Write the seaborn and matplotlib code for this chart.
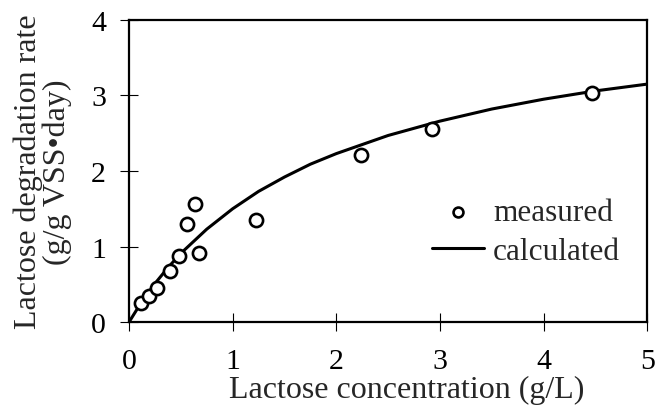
import numpy as np
import pandas as pd
import matplotlib
matplotlib.use("Agg")
import matplotlib.pyplot as plt
import seaborn as sns

# Measured lactose degradation rates
measured_conc = [0.12, 0.19, 0.27, 0.40, 0.48, 0.56, 0.64, 0.68, 1.23, 2.24, 2.92, 4.47]
measured_rate = [0.25, 0.35, 0.45, 0.67, 0.87, 1.30, 1.56, 0.92, 1.35, 2.21, 2.55, 3.03]

# Calculated (model) rate curve
calc_conc = [0.0, 0.1, 0.25, 0.375, 0.5, 0.75, 1.0, 1.25, 1.5, 1.75, 2.0, 2.5, 3.0, 3.5, 4.0, 4.5, 5.0]
calc_rate = [0.0, 0.22, 0.51, 0.72, 0.91, 1.23, 1.50, 1.73, 1.92, 2.09, 2.23, 2.47, 2.66, 2.82, 2.95, 3.06, 3.15]

x_ticks = [0, 1, 2, 3, 4, 5]
y_ticks = [0, 1, 2, 3, 4]

sns.set_theme(style="ticks")
plt.rcParams["font.family"] = ["Liberation Serif", "DejaVu Serif"]
plt.rcParams["mathtext.fontset"] = "stix"

FS_TICK = 21.5
FS_LABEL = 23
FS_LEG = 22.5

meas = pd.DataFrame({"conc": measured_conc, "rate": measured_rate})
calc = pd.DataFrame({"conc": calc_conc, "rate": calc_rate})

fig = plt.figure(figsize=(6.55, 4.10), dpi=100)
ax = fig.add_axes([0.197, 0.212, 0.791, 0.737])

sns.lineplot(data=calc, x="conc", y="rate", ax=ax, color="black", lw=2.2,
             label="calculated", zorder=2)
sns.scatterplot(data=meas, x="conc", y="rate", ax=ax, marker="o", s=90,
                facecolor="white", edgecolor="black", linewidth=1.9,
                label="measured", zorder=3)

ax.set_xlim(0, 5)
ax.set_ylim(0, 4)
ax.set_xticks(x_ticks)
ax.set_yticks(y_ticks)
ax.tick_params(axis="both", direction="inout", length=13, width=0.8,
               labelsize=FS_TICK, colors="black")
ax.tick_params(axis="x", pad=12)
ax.tick_params(axis="y", pad=10)

for side in ["left", "right", "top", "bottom"]:
    ax.spines[side].set_visible(True)
    ax.spines[side].set_linewidth(1.6)
    ax.spines[side].set_color("black")

ax.set_xlabel("Lactose concentration (g/L)", fontsize=FS_LABEL, labelpad=1)
ax.xaxis.label.set_x(0.535)
ax.set_ylabel("Lactose degradation rate\n(g/g VSS\u2022day)", fontsize=FS_LABEL,
              labelpad=14, linespacing=0.95)

handles, labels = ax.get_legend_handles_labels()
order = [labels.index("measured"), labels.index("calculated")]
ax.legend([handles[i] for i in order], [labels[i] for i in order],
          loc="upper left", bbox_to_anchor=(0.585, 0.41), frameon=False,
          fontsize=FS_LEG, handlelength=1.65, handletextpad=0.3, labelspacing=0.3,
          borderpad=0, borderaxespad=0, markerscale=0.75)

fig.savefig("out.png", dpi=100)
